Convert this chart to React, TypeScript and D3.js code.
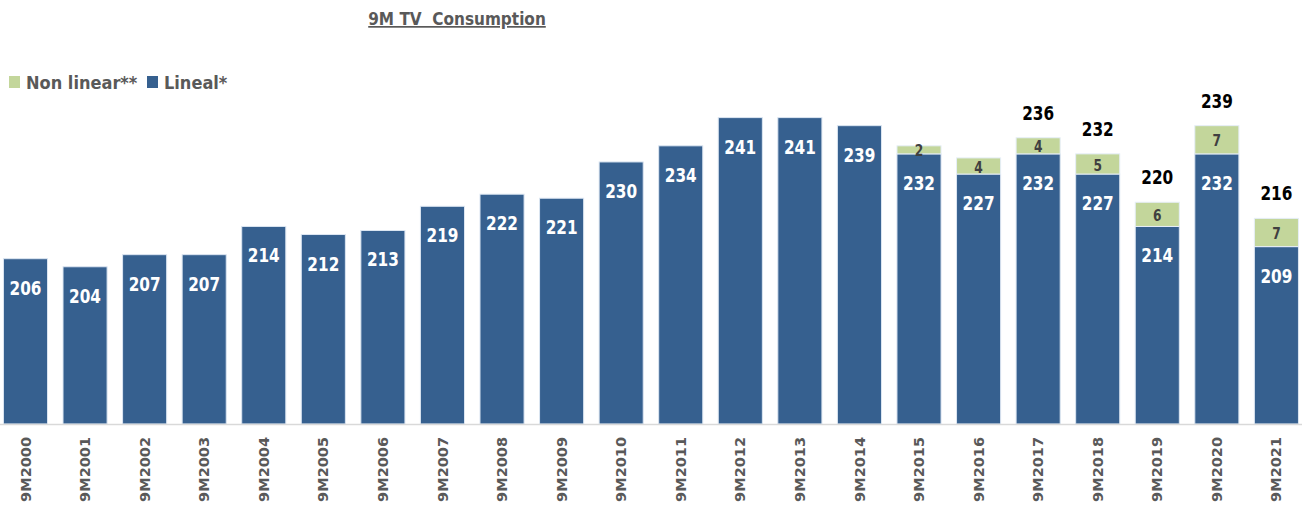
import React, { useEffect, useRef } from 'react'
import * as d3 from 'd3'

// periods on the x axis
const periods = ['9M2000', '9M2001', '9M2002', '9M2003', '9M2004', '9M2005', '9M2006', '9M2007', '9M2008', '9M2009', '9M2010',
  '9M2011', '9M2012', '9M2013', '9M2014', '9M2015', '9M2016', '9M2017', '9M2018', '9M2019', '9M2020', '9M2021']
// linear TV minutes
const lineal = [206, 204, 207, 207, 214, 212, 213, 219, 222, 221, 230, 234, 241, 241, 239, 232, 227, 232, 227, 214, 232, 209]
// non linear minutes (0 = not measured)
const nonLinear = [0, 0, 0, 0, 0, 0, 0, 0, 0, 0, 0, 0, 0, 0, 0, 2, 4, 4, 5, 6, 7, 7]
// totals shown above the bars
const totals = [null, null, null, null, null, null, null, null, null, null, null, null, null, null, null, null, null, 236, 232, 220, 239, 216]

const W = 1302, H = 506
const BLUE = '#36608f', GREEN = '#c3d69b'
const font = 'DejaVu Sans Condensed, DejaVu Sans, sans-serif'

export default function App() {
  const ref = useRef<SVGSVGElement>(null)

  useEffect(() => {
    const svg = d3.select(ref.current)
    svg.selectAll('*').remove()

    var x = d3.scaleBand().domain(periods).range([-4.3, 1306.2]).paddingInner(0.26).paddingOuter(0.13)
    var y = d3.scaleLinear().domain([165, 260]).range([424, 41])
    const cx = (p: string) => x(p)! + x.bandwidth() / 2

    // title
    svg.append('text').attr('x', 457).attr('y', 25).attr('text-anchor', 'middle')
      .attr('font-family', font).attr('font-stretch', 'condensed').attr('font-weight', 'bold')
      .attr('font-size', 17).attr('fill', '#595959').attr('text-decoration', 'underline')
      .style('white-space', 'pre')
      .text('9M TV  Consumption')

    // legend
    const leg = [{ name: 'Non linear**', color: GREEN, x: 9 }, { name: 'Lineal*', color: BLUE, x: 147 }]
    leg.forEach(l => {
      svg.append('rect').attr('x', l.x).attr('y', 76).attr('width', 11).attr('height', 12).attr('fill', l.color)
      svg.append('text').attr('x', l.x + 17).attr('y', 83).attr('dy', '0.35em')
        .attr('font-family', font).attr('font-stretch', 'condensed').attr('font-weight', 'bold')
        .attr('font-size', 18).attr('fill', '#595959').text(l.name)
    })

    const g = svg.append('g')
    const data = periods.map((p, i) => ({ p, lin: lineal[i], nl: nonLinear[i], tot: totals[i] }))

    // linear bars
    g.selectAll('rect.lin').data(data).enter().append('rect').attr('class', 'lin')
      .attr('x', d => x(d.p)!).attr('width', x.bandwidth())
      .attr('y', d => y(d.lin)).attr('height', d => y(165) - y(d.lin))
      .attr('fill', BLUE).attr('stroke', '#dce6f2').attr('stroke-width', 1)

    // non linear bars on top
    g.selectAll('rect.nl').data(data.filter(d => d.nl > 0)).enter().append('rect').attr('class', 'nl')
      .attr('x', d => x(d.p)!).attr('width', x.bandwidth())
      .attr('y', d => y(d.lin + d.nl)).attr('height', d => y(d.lin) - y(d.lin + d.nl))
      .attr('fill', GREEN).attr('stroke', '#e6eef8').attr('stroke-width', 1)

    // narrow number labels (calibri-ish look)
    g.selectAll('text.lin').data(data).enter().append('text').attr('class', 'lin')
      .attr('transform', d => 'translate(' + cx(d.p) + ',' + (y(d.lin) + 29) + ') scale(0.85,1)').attr('dy', '0.35em')
      .attr('text-anchor', 'middle').attr('font-family', font).attr('font-stretch', 'condensed').attr('font-weight', 'bold')
      .attr('font-size', 20).attr('fill', '#fff').text(d => d.lin)

    g.selectAll('text.nl').data(data.filter(d => d.nl > 0)).enter().append('text').attr('class', 'nl')
      .attr('transform', d => 'translate(' + cx(d.p) + ',' + ((y(d.lin) + y(d.lin + d.nl)) / 2 + 1) + ') scale(0.85,1)').attr('dy', '0.35em')
      .attr('text-anchor', 'middle').attr('font-family', font).attr('font-stretch', 'condensed').attr('font-weight', 'bold')
      .attr('font-size', 16).attr('fill', '#404040').text(d => d.nl)

    g.selectAll('text.tot').data(data.filter(d => d.tot != null)).enter().append('text').attr('class', 'tot')
      .attr('transform', d => 'translate(' + cx(d.p) + ',' + (y(d.lin + d.nl) - 25) + ') scale(0.85,1)').attr('dy', '0.35em')
      .attr('text-anchor', 'middle').attr('font-family', font).attr('font-stretch', 'condensed').attr('font-weight', 'bold')
      .attr('font-size', 20).attr('fill', '#000').text(d => d.tot!)

    // x axis
    svg.append('line').attr('x1', 0).attr('x2', W).attr('y1', 424.5).attr('y2', 424.5)
      .attr('stroke', '#d9d9d9').attr('stroke-width', 1.5)

    svg.append('g').selectAll('text').data(periods).enter().append('text')
      .attr('transform', d => 'translate(' + cx(d) + ',437) rotate(-90)')
      .attr('text-anchor', 'end').attr('dy', '0.35em')
      .attr('font-family', 'DejaVu Sans, sans-serif').attr('font-weight', 'bold')
      .attr('font-size', 14.5).attr('fill', '#595959').text(d => d)
  }, [])

  return <svg ref={ref} width={W} height={H} style={{ position: 'absolute', left: 0, top: 0, background: '#fff' }} />
}
